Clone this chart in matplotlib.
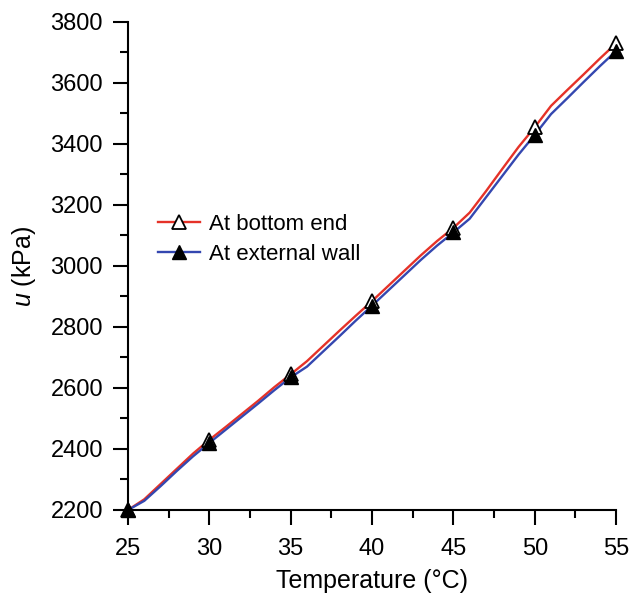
import numpy as np
import matplotlib
matplotlib.use('Agg')
import matplotlib.pyplot as plt
from matplotlib.ticker import MultipleLocator

plt.rcParams['font.family'] = ['Liberation Sans', 'DejaVu Sans']
plt.rcParams['mathtext.fontset'] = 'custom'
plt.rcParams['mathtext.it'] = 'Liberation Sans:italic'
plt.rcParams['mathtext.rm'] = 'Liberation Sans'

# Temperature steps (deg C) and computed pressure u (kPa)
temperature = np.arange(25, 56)
u_bottom = [2200, 2235, 2285, 2335, 2385, 2430, 2472, 2515, 2558, 2603, 2645,
            2688, 2738, 2788, 2837, 2885, 2935, 2985, 3035, 3082, 3125,
            3175, 3245, 3318, 3390, 3455, 3525, 3577, 3628, 3680, 3730]
u_wall = [2200, 2230, 2278, 2328, 2376, 2420, 2463, 2506, 2549, 2593, 2635,
          2670, 2720, 2770, 2821, 2870, 2920, 2970, 3020, 3067, 3110,
          3155, 3225, 3295, 3365, 3430, 3498, 3550, 3603, 3655, 3705]

marker_temps = [25, 30, 35, 40, 45, 50, 55]

fig = plt.figure(figsize=(6.29, 5.96), dpi=100)
ax = fig.add_axes([0.2035, 0.1443, 0.776, 0.8188])

u_bottom = np.array(u_bottom)
u_wall = np.array(u_wall)
idx = [list(temperature).index(t) for t in marker_temps]

red = '#e53228'
blue = '#3447b0'
ms = 10.5
ax.plot(temperature, u_bottom, color=red, lw=1.7, zorder=2)
ax.plot(temperature, u_wall, color=blue, lw=1.7, zorder=2)
ax.plot(temperature[idx], u_bottom[idx], ls='none', marker='^', ms=ms,
        mfc='white', mec='black', mew=1.3, clip_on=False, zorder=3)
ax.plot(temperature[idx], u_wall[idx], ls='none', marker='^', ms=ms,
        mfc='black', mec='black', clip_on=False, zorder=4)

# legend handles combine the line and its marker
h1, = ax.plot([], [], color=red, lw=1.7, marker='^', ms=ms,
              mfc='white', mec='black', mew=1.3)
h2, = ax.plot([], [], color=blue, lw=1.7, marker='^', ms=ms,
              mfc='black', mec='black')
ax.legend([h1, h2], ['At bottom end', 'At external wall'], loc='upper left',
          bbox_to_anchor=(0.062, 0.607), frameon=False, fontsize=16,
          handlelength=1.9, handletextpad=0.4, labelspacing=0.4,
          borderaxespad=0, borderpad=0)

ax.set_xlim(25, 55)
ax.set_ylim(2200, 3800)
ax.xaxis.set_major_locator(MultipleLocator(5))
ax.xaxis.set_minor_locator(MultipleLocator(2.5))
ax.yaxis.set_major_locator(MultipleLocator(200))
ax.yaxis.set_minor_locator(MultipleLocator(100))

for side in ['top', 'right']:
    ax.spines[side].set_visible(False)
for side in ['left', 'bottom']:
    ax.spines[side].set_linewidth(1.5)

ax.tick_params(which='major', direction='out', length=11, width=1.5,
               labelsize=17, pad=7)
ax.tick_params(axis='x', which='major', pad=9)
ax.tick_params(which='minor', direction='out', length=6, width=1.5)

ax.set_xlabel('Temperature (°C)', fontsize=18, labelpad=7)
ax.set_ylabel('$u$ (kPa)', fontsize=18, labelpad=9)

fig.savefig('out.png', dpi=100)
